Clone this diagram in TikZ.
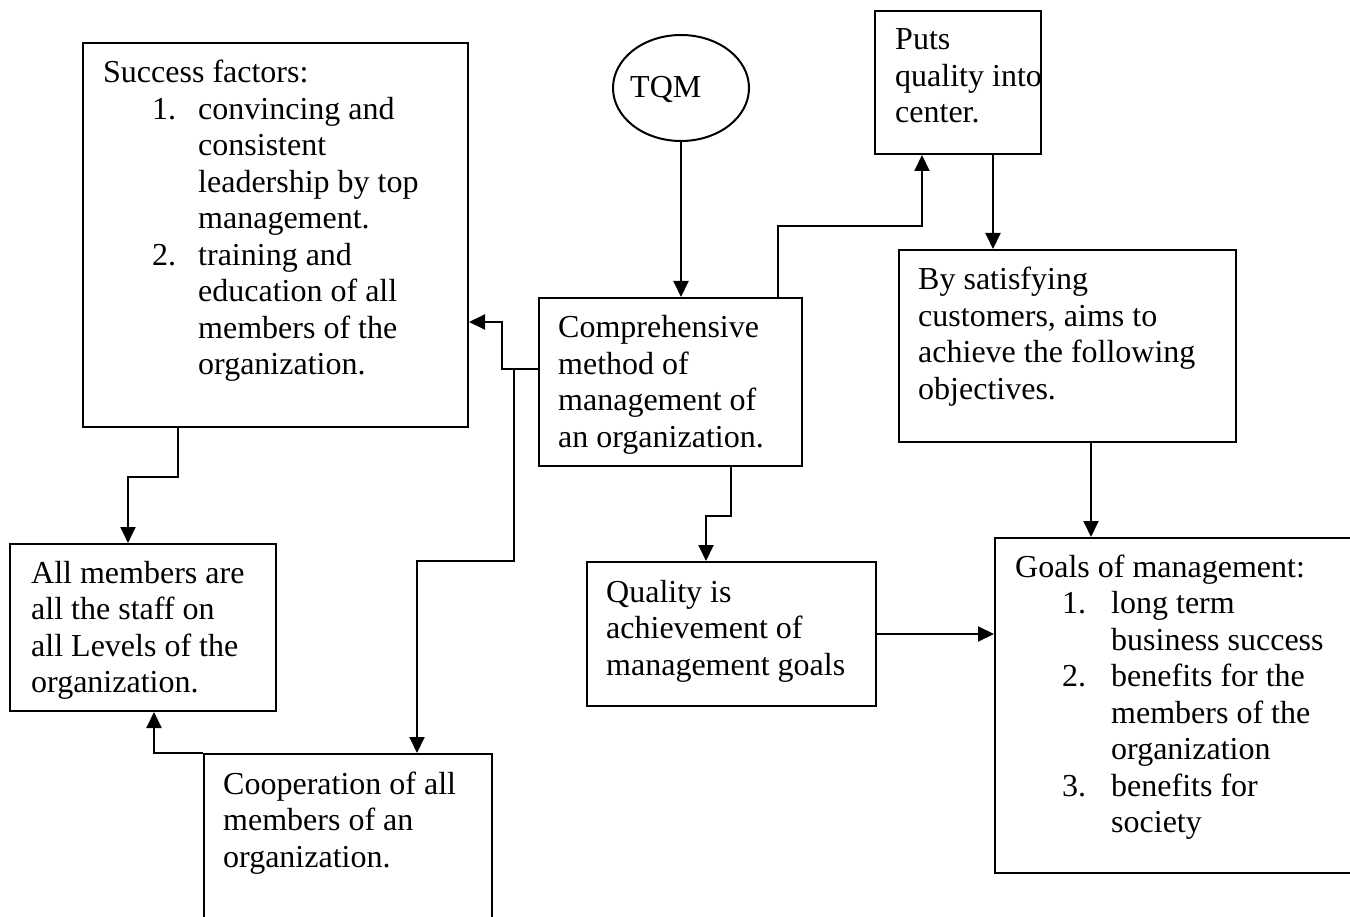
\documentclass[tikz,border=0pt]{standalone}
\usepackage{fontspec}
\setmainfont{Liberation Serif}
\usetikzlibrary{arrows.meta,shapes.geometric,calc}
\newcommand\fs{\fontsize{32}{36.5}\selectfont}
\newcommand\ls[1]{\begin{tabular}[t]{@{}l@{}}#1\end{tabular}}
\begin{document}
\begin{tikzpicture}[x=1pt,y=-1pt,
  box/.style={draw,line width=2pt,rectangle,anchor=north west,inner sep=0pt},
  txt/.style={anchor=base west,inner sep=0pt,font=\fs},
  arr/.style={line width=2pt,-{Triangle[length=16pt,width=15pt]}}]
\useasboundingbox (0,0) rectangle (1350,917);
\clip (0,0) rectangle (1350,917);
\fill[white] (0,0) rectangle (1350,917);
% boxes
\node[box,minimum width=385pt,minimum height=384pt] (succ) at (82,42) {};
\node[box,minimum width=166pt,minimum height=143pt] (puts) at (874,10) {};
\node[box,minimum width=263pt,minimum height=168pt] (comp) at (538,297) {};
\node[box,minimum width=337pt,minimum height=192pt] (bysat) at (898,249) {};
\node[box,minimum width=266pt,minimum height=167pt] (allm) at (9,543) {};
\node[box,minimum width=289pt,minimum height=144pt] (qual) at (586,561) {};
\node[box,minimum width=420pt,minimum height=335pt] (goals) at (994,537) {};
\node[box,minimum width=288pt,minimum height=250pt] (coop) at (203,753) {};
\node[draw,line width=2pt,ellipse,inner sep=0pt,minimum width=136pt,minimum height=106pt] (tqm) at (681,88) {};
% texts
\node[txt] (tqmt) at (630,98) {TQM};
\node[txt] (succh) at (103,83) {Success factors:};
\node[txt] (succn1) at (152,119.5) {1.};
\node[txt] (succn2) at (152,265.5) {2.};
\node[txt] (succi) at (198,119.5) {\ls{convincing and\\consistent\\leadership by top\\management.\\training and\\education of all\\members of the\\organization.}};
\node[txt] (putst) at (895,50) {\ls{Puts\\quality into\\center.}};
\node[txt] (compt) at (558,338) {\ls{Comprehensive\\method of\\management of\\an organization.}};
\node[txt] (bysatt) at (918,290) {\ls{By satisfying\\customers, aims to\\achieve the following\\objectives.}};
\node[txt] (allmt) at (31,583) {\ls{All members are\\all the staff on\\all Levels of the\\organization.}};
\node[txt] (qualt) at (606,602) {\ls{Quality is\\achievement of\\management goals}};
\node[txt] (coopt) at (223,794) {\ls{Cooperation of all\\members of an\\organization.}};
\node[txt] (goalsh) at (1015,577) {Goals of management:};
\node[txt] (goalsn1) at (1062,613.5) {1.};
\node[txt] (goalsn2) at (1062,686.5) {2.};
\node[txt] (goalsn3) at (1062,796) {3.};
\node[txt] (goalsi) at (1111,613.5) {\ls{long term\\business success\\benefits for the\\members of the\\organization\\benefits for\\society}};
% connectors
\draw[arr] (tqm.south) -- (tqm.south |- comp.north);
\draw[arr] ([xshift=240pt]comp.north west) -- ++(0,-71) -| ([xshift=48pt]puts.south west);
\draw[arr] ([xshift=119pt]puts.south west) -- ([xshift=95pt]bysat.north west);
\draw[arr] ([xshift=193pt]bysat.south west) -- ([xshift=97pt]goals.north west);
\draw[arr] (qual.east) -- (qual.east -| goals.west);
\draw[arr] ([xshift=193pt]comp.south west) -- ++(0,49) -| ([xshift=120pt]qual.north west);
\coordinate (split) at ($(comp.north west)+(-24pt,-72pt)$);
\draw[arr] ([yshift=-72pt]comp.north west) -- ++(-36,0) |- ([yshift=-280pt]succ.north east);
\draw[arr] (split) -- ++(0,192) -| ([xshift=214pt]coop.north west);
\draw[arr] ([xshift=96pt]succ.south west) -- ++(0,49) -| ([xshift=119pt]allm.north west);
\draw[arr] (coop.north west) -| ([xshift=145pt]allm.south west);
\end{tikzpicture}
\end{document}
